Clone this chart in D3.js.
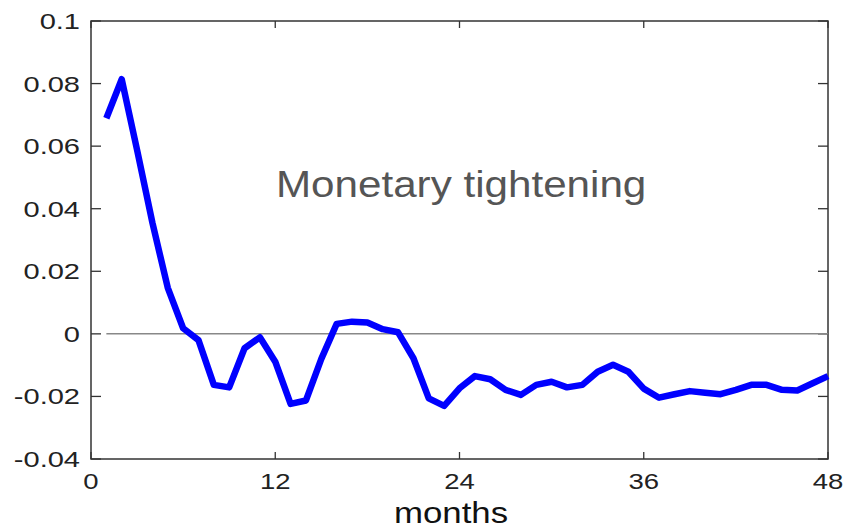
<!DOCTYPE html>
<html><head><meta charset="utf-8">
<script src="https://cdn.jsdelivr.net/npm/d3@7"></script>
<style>body{margin:0;background:#fff}svg{display:block}</style>
</head><body>
<script>
const months = d3.range(1, 49);
const response = [0.0689,0.0814,0.0588,0.0355,0.0147,0.0018,-0.0020,-0.0163,-0.0171,-0.0046,
 -0.0011,-0.0089,-0.0224,-0.0213,-0.0080,0.0032,0.0039,0.0036,0.0015,0.0005,
 -0.0078,-0.0206,-0.0230,-0.0174,-0.0135,-0.0145,-0.0179,-0.0195,-0.0163,-0.0153,
 -0.0171,-0.0163,-0.0121,-0.0099,-0.0121,-0.0175,-0.0204,-0.0193,-0.0183,-0.0188,
 -0.0193,-0.0179,-0.0163,-0.0163,-0.0179,-0.0181,-0.0158,-0.0135];
const xTicks = [0,12,24,36,48];
const yTicks = [-0.04,-0.02,0,0.02,0.04,0.06,0.08,0.1];
const yTickLabels = ["-0.04","-0.02","0","0.02","0.04","0.06","0.08","0.1"];
const title = "Monetary tightening";
const xLabel = "months";

const W = 846, H = 531;
const m = {left:91, right:828, top:21, bottom:459};
const svg = d3.select("body").append("svg").attr("width", W).attr("height", H);
const x = d3.scaleLinear().domain([0,48]).range([m.left, m.right]);
const y = d3.scaleLinear().domain([-0.04,0.1]).range([m.bottom, m.top]);

const font = "Liberation Sans, Arial, sans-serif";
// frame
svg.append("rect").attr("x", m.left).attr("y", m.top)
  .attr("width", m.right-m.left).attr("height", m.bottom-m.top)
  .attr("fill","none").attr("stroke","#333").attr("stroke-width",1.5);

// ticks
const g = svg.append("g").attr("stroke","#333").attr("stroke-width",1.3);
yTicks.forEach(t => {
  g.append("line").attr("x1", x(0)).attr("x2", x(0)+10).attr("y1", y(t)).attr("y2", y(t));
  g.append("line").attr("x1", x(48)).attr("x2", x(48)-10).attr("y1", y(t)).attr("y2", y(t));
});
xTicks.forEach(t => {
  g.append("line").attr("x1", x(t)).attr("x2", x(t)).attr("y1", y(-0.04)).attr("y2", y(-0.04)-7);
  g.append("line").attr("x1", x(t)).attr("x2", x(t)).attr("y1", y(0.1)).attr("y2", y(0.1)+7);
});

// tick labels
yTicks.forEach((t,i) => {
  svg.append("text").attr("transform", `translate(${x(0)-11},${y(t)+8}) scale(1.32,1)`)
    .attr("text-anchor","end").attr("font-family",font).attr("font-size",22)
    .attr("fill","#222").text(yTickLabels[i]);
});
xTicks.forEach(t => {
  svg.append("text").attr("transform", `translate(${x(t)},${y(-0.04)+30}) scale(1.25,1)`)
    .attr("text-anchor","middle").attr("font-family",font).attr("font-size",22)
    .attr("fill","#222").text(String(t));
});

// zero line
svg.append("path")
  .datum(months)
  .attr("fill","none").attr("stroke","#888").attr("stroke-width",1.5)
  .attr("d", d3.line().x(d => x(d)).y(() => y(0)));

// response line
svg.append("path")
  .datum(months.map((d,i) => [d, response[i]]))
  .attr("fill","none").attr("stroke","#0000ff").attr("stroke-width",6.5)
  .attr("stroke-linejoin","round")
  .attr("d", d3.line().x(d => x(d[0])).y(d => y(d[1])));

// annotation
svg.append("text").attr("transform", `translate(276,197) scale(1.14,1)`)
  .attr("font-family",font).attr("font-size",37).attr("fill","#555").text(title);

svg.append("text").attr("transform", `translate(451,523) scale(1.2,1)`)
  .attr("text-anchor","middle").attr("font-family",font).attr("font-size",29)
  .attr("fill","#111").text(xLabel);
</script>
</body></html>
